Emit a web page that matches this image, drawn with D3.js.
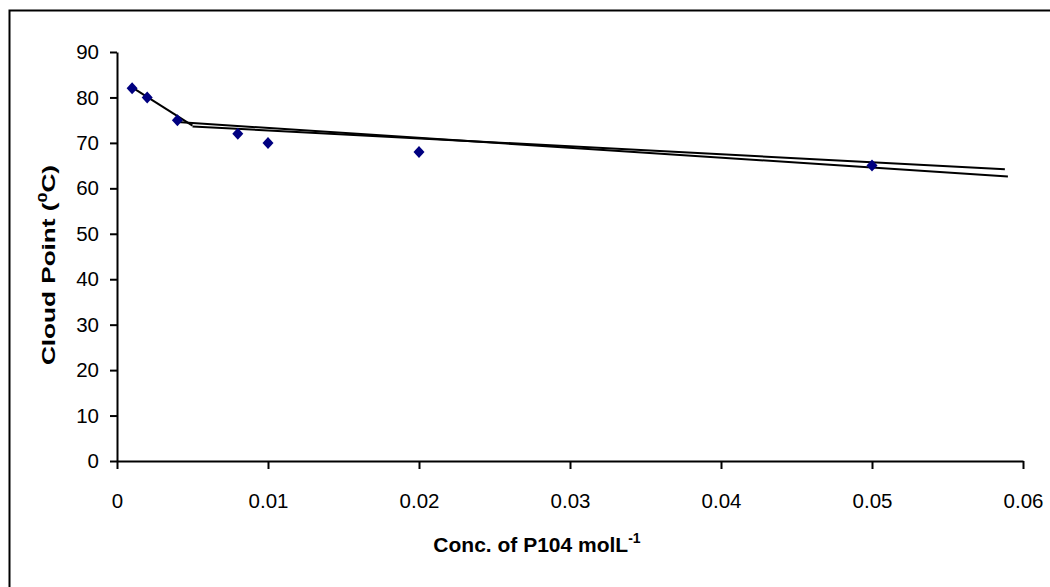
<!DOCTYPE html>
<html>
<head>
<meta charset="utf-8">
<script src="https://cdn.jsdelivr.net/npm/d3@7"></script>
<style>
  body { margin: 0; background: #fff; }
  text { font-family: "Liberation Sans", Arial, sans-serif; }
</style>
</head>
<body>
<div id="chart"></div>
<script>
const MARGIN = { TOP: 52, BOTTOM: 126, LEFT: 117, RIGHT: 27 }
const WIDTH = 1050 - MARGIN.LEFT - MARGIN.RIGHT;
const HEIGHT = 587 - MARGIN.TOP - MARGIN.BOTTOM;

// measured points
const conc = [0.001, 0.002, 0.004, 0.008, 0.01, 0.02, 0.05];
const cloudPoint = [82, 80, 75, 72, 70, 68, 65];

// fitted lines drawn on the chart (end points)
const fitSteep = [[0.001, 82.2], [0.005, 73.8]];
const fitUpper = [[0.005, 73.6], [0.0588, 64.2]];
const fitLower = [[0.004, 74.6], [0.059, 62.6]];

const xTicks = [0, 0.01, 0.02, 0.03, 0.04, 0.05, 0.06];
const yTicks = [0, 10, 20, 30, 40, 50, 60, 70, 80, 90];

const svg = d3.select('#chart')
  .append('svg')
    .attr('width', 1050)
    .attr('height', 587)

// outer chart border (only top/left visible in the frame)
svg.append('rect')
  .attr('x', 9.5).attr('y', 10.5)
  .attr('width', 1100).attr('height', 700)
  .attr('fill', 'none')
  .attr('stroke', '#000')
  .attr('stroke-width', 2)

const g = svg.append('g')
  .attr('transform', `translate(${MARGIN.LEFT}, ${MARGIN.TOP})`)

const x = d3.scaleLinear().domain([0, 0.06]).range([0, WIDTH])
const y = d3.scaleLinear().domain([0, 90]).range([HEIGHT, 0])

const xAxisCall = d3.axisBottom(x)
  .tickValues(xTicks)
  .tickFormat(d => d === 0 ? '0' : d3.format('.2f')(d))
  .tickSizeInner(8).tickSizeOuter(0).tickPadding(24)

const yAxisCall = d3.axisLeft(y)
  .tickValues(yTicks)
  .tickSizeInner(7).tickSizeOuter(0).tickPadding(11)

const xAxisGroup = g.append('g')
  .attr('transform', `translate(0, ${HEIGHT})`)
  .call(xAxisCall)

const yAxisGroup = g.append('g').call(yAxisCall)

g.selectAll('.domain').attr('stroke', '#000').attr('stroke-width', 2)
g.selectAll('.tick line').attr('stroke', '#000').attr('stroke-width', 2)
g.selectAll('.tick text')
  .attr('fill', '#000')
  .style('font-size', '20.5px')
  .style('font-family', '"Liberation Sans", Arial, sans-serif')
xAxisGroup.selectAll('.tick text').attr('dy', '0.71em')

// fitted lines
const line = d3.line().x(d => x(d[0])).y(d => y(d[1]))
g.selectAll('path.fit')
  .data([fitSteep, fitUpper, fitLower])
  .enter()
  .append('path')
    .attr('class', 'fit')
    .attr('d', line)
    .attr('fill', 'none')
    .attr('stroke', '#000')
    .attr('stroke-width', 2)

// diamond markers
const points = conc.map((c, i) => ({ c: c, v: cloudPoint[i] }))
g.selectAll('path.pt')
  .data(points)
  .enter()
  .append('path')
    .attr('class', 'pt')
    .attr('d', 'M0,-6L5.5,0L0,6L-5.5,0Z')
    .attr('transform', d => `translate(${x(d.c)}, ${y(d.v)})`)
    .attr('fill', '#000080')

// axis titles
const xLabel = svg.append('text')
  .attr('x', 537)
  .attr('y', 552)
  .attr('text-anchor', 'middle')
  .style('font-size', '21px')
  .style('font-weight', 'bold')
xLabel.append('tspan').text('Conc. of P104 molL')
xLabel.append('tspan').attr('dy', -9).style('font-size', '14px').text('-1')

const yLabel = svg.append('text')
  .attr('transform', `translate(55, 265) rotate(-90)`)
  .attr('text-anchor', 'middle')
  .attr('textLength', 200)
  .attr('lengthAdjust', 'spacingAndGlyphs')
  .style('font-size', '19px')
  .style('font-weight', 'bold')
yLabel.append('tspan').text('Cloud Point (')
yLabel.append('tspan').attr('dy', -8).style('font-size', '13px').text('0')
yLabel.append('tspan').attr('dy', 8).text('C)')
</script>
</body>
</html>
